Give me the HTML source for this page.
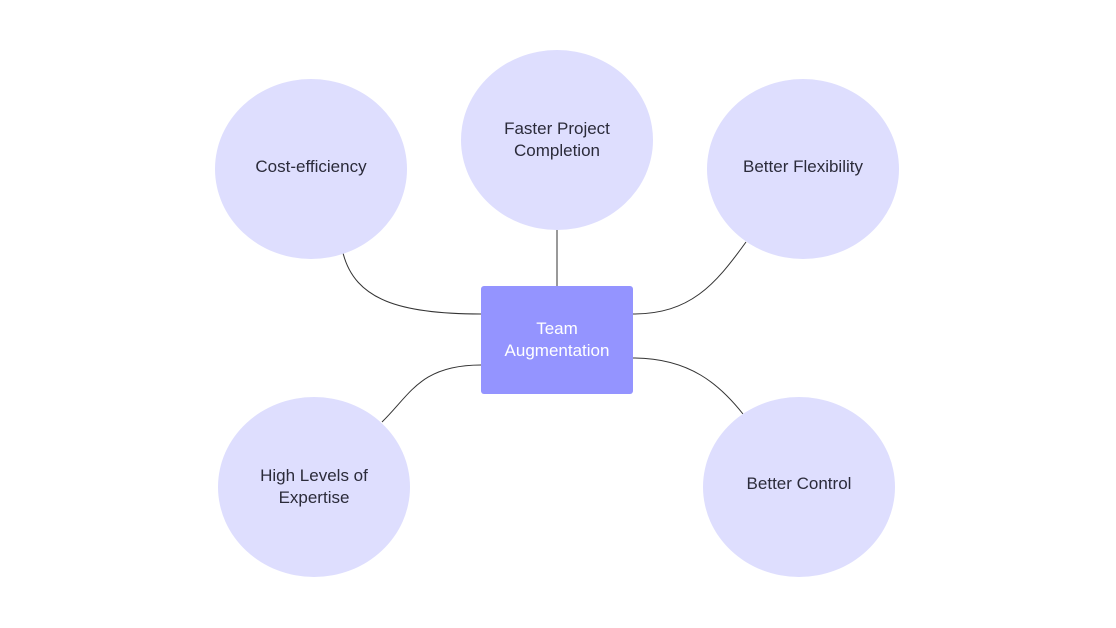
<!DOCTYPE html>
<html><head><meta charset="utf-8"><style>
html,body{margin:0;padding:0;background:#fff;}
svg{display:block;}
text{font-family:"Liberation Sans",sans-serif;font-size:17px;fill:#2b2b3a;text-anchor:middle;}
</style></head><body>
<svg width="1116" height="628" viewBox="0 0 1116 628" xmlns="http://www.w3.org/2000/svg">
<g fill="none" stroke="#333" stroke-width="1">
<path d="M343,253 C355,300 400,314 481,314"/>
<path d="M557,230 L557,286"/>
<path d="M633,314 C690,314 715,285 746,242"/>
<path d="M481,365 C420,365 410,395 382,422"/>
<path d="M633,358 C690,358 720,385 743,414"/>
</g>
<g fill="#dedefe">
<ellipse cx="311" cy="169" rx="96" ry="90"/>
<ellipse cx="557" cy="140" rx="96" ry="90"/>
<ellipse cx="803" cy="169" rx="96" ry="90"/>
<ellipse cx="314" cy="487" rx="96" ry="90"/>
<ellipse cx="799" cy="487" rx="96" ry="90"/>
</g>
<rect x="481" y="286" width="152" height="108" rx="3" fill="#9494ff"/>
<text x="311" y="172">Cost-efficiency</text>
<text x="557" y="134">Faster Project</text>
<text x="557" y="156">Completion</text>
<text x="803" y="172">Better Flexibility</text>
<text x="314" y="481">High Levels of</text>
<text x="314" y="503">Expertise</text>
<text x="799" y="489">Better Control</text>
<text x="557" y="334" style="fill:#fff">Team</text>
<text x="557" y="356" style="fill:#fff">Augmentation</text>
</svg>
</body></html>
